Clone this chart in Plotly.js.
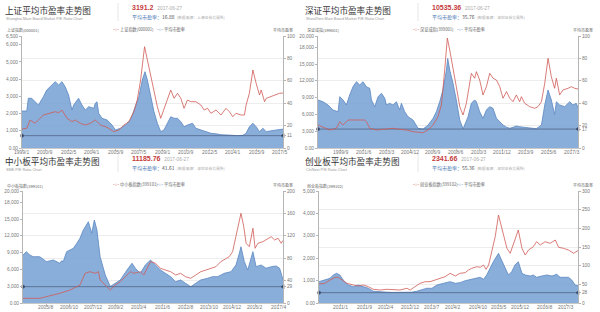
<!DOCTYPE html>
<html><head><meta charset="utf-8">
<script src="https://cdn.plot.ly/plotly-3.0.1.min.js"></script>
<style>html,body{margin:0;padding:0;background:#fff}#chart{width:600px;height:312px}</style>
</head><body><div id="chart"></div>
<script>
// ---------- texts ----------
const titles = ['上证平均市盈率走势图','深证平均市盈率走势图','中小板平均市盈率走势图','创业板平均市盈率走势图'];
const subtitles = ['Shanghai Main Board Market P/E Ratio Chart','ShenZhen Main Board Market P/E Ratio Chart','SME P/E Ratio Chart','ChiNext P/E Ratio Chart'];
const lastIndex = ['3191.2','10535.36','11185.76','2341.66'];
const lastDate = ['2017-06-27','2017-06-27','2017-06-27','2017-06-27'];
const lastPE = ['16.88','35.76','41.61','55.36'];
const sources = ['(数据来源：上海证券交易所)','(数据来源：深圳证券交易所)','(数据来源：深圳证券交易所)','(数据来源：深圳证券交易所)'];
const indexNames = ['上证指数(000001)','深证成指(399001)','中小板指数(399101)','创业板指数(399102)'];
const peName = '平均市盈率';

// ---------- x tick labels ----------
const shXLabels = ['1999/1','2000/9','2002/5','2004/1','2005/9','2007/5','2009/1','2010/9','2012/5','2014/1','2015/9','2017/5'];
const szXLabels = ['1997/12','1999/9','2001/6','2003/3','2004/12','2006/9','2008/6','2010/3','2011/12','2013/9','2015/6','2017/3'];
const smeXLabels = ['2004/6','2005/8','2006/10','2007/12','2009/2','2010/4','2011/6','2012/8','2013/10','2014/12','2016/2','2017/4'];
const cyXLabels = ['2010/6','2011/1','2011/9','2012/4','2012/12','2013/7','2014/2','2014/10','2015/5','2015/12','2016/8','2017/3'];

// ---------- Shanghai ----------
const shT = [1999.00,1999.34,1999.57,1999.93,2000.52,2001.00,2001.36,2001.60,2001.84,2002.20,2002.55,2002.79,2003.14,2003.50,2003.86,2004.21,2004.57,2005.05,2005.52,2005.88,2006.24,2006.59,2006.95,2007.19,2007.43,2007.71,2007.91,2008.14,2008.38,2008.62,2008.86,2009.21,2009.57,2009.81,2010.05,2010.29,2010.52,2010.76,2011.00,2011.36,2011.71,2011.95,2012.19,2012.43,2012.79,2013.14,2013.50,2013.74,2013.98,2014.21,2014.57,2014.81,2014.93,2015.16,2015.41,2015.64,2015.88,2016.00,2016.24,2016.36,2016.71,2017.07,2017.31,2017.55];
const shIdx = [1100,1143,1625,1433,1915,2014,2107,2049,2205,1724,1526,1625,1433,1335,1433,1625,1335,1201,946,1045,1335,1526,2107,2786,3946,5879,5107,4335,3465,2397,1724,2496,3366,2884,3174,2884,2304,2786,2687,2687,2496,2205,2304,2014,2205,1915,2304,2107,1816,2014,1915,1915,2496,3174,4527,3755,3076,3366,2687,2884,2977,3076,3174,3191];
const shPeT = [1999.00,1999.34,1999.45,1999.69,1999.93,2000.17,2000.52,2000.76,2001.00,2001.36,2001.60,2001.84,2002.07,2002.31,2002.55,2002.67,2003.02,2003.26,2003.50,2003.74,2004.10,2004.21,2004.33,2004.45,2004.69,2005.05,2005.40,2005.64,2006.00,2006.36,2006.71,2007.07,2007.31,2007.55,2007.74,2007.91,2008.14,2008.38,2008.62,2008.86,2009.09,2009.45,2009.57,2009.81,2010.05,2010.29,2010.52,2010.76,2011.12,2011.36,2011.71,2012.07,2012.43,2012.90,2013.14,2013.62,2013.98,2014.33,2014.69,2014.93,2015.16,2015.41,2015.64,2015.88,2016.12,2016.36,2016.71,2017.19,2017.55];
const shPe = [33.0,33.0,44.4,44.4,41.3,38.4,45.8,51.8,54.7,59.2,56.3,59.2,54.7,47.3,33.9,38.4,44.4,38.4,33.9,36.9,35.4,39.9,41.3,31.0,26.5,25.0,20.5,16.1,17.6,20.5,25.0,36.9,45.8,60.7,68.1,60.7,47.3,32.4,22.1,14.6,16.1,25.0,27.9,26.5,26.5,23.5,19.0,20.5,22.1,17.6,16.1,14.6,13.1,12.5,11.8,11.6,11.2,11.0,11.3,13.1,19.0,22.1,19.0,14.6,17.6,14.6,15.4,16.1,16.88];

// ---------- Shenzhen ----------
const szT = [1997.94,1998.83,1999.33,1999.59,1999.84,2000.22,2000.85,2001.48,2001.61,2001.86,2002.37,2002.87,2003.25,2003.62,2004.13,2004.64,2005.14,2005.90,2006.28,2006.66,2007.03,2007.29,2007.54,2007.74,2007.92,2008.17,2008.42,2008.68,2008.93,2009.18,2009.56,2009.81,2009.94,2010.19,2010.44,2010.70,2010.95,2011.20,2011.46,2011.71,2011.96,2012.22,2012.47,2012.72,2012.97,2013.22,2013.35,2013.60,2013.98,2014.36,2014.61,2014.87,2015.12,2015.37,2015.62,2015.87,2016.00,2016.25,2016.50,2016.88,2017.14,2017.39,2017.64];
const szIdx = [4108,3215,3518,4697,4108,5000,5000,5000,4697,3518,3215,3340,3340,3518,3340,3215,2911,2733,3215,4108,5590,7680,13930,19640,17500,14520,10950,7380,5890,7980,13340,12450,13630,12140,9470,10950,13340,12450,12140,10950,8880,10060,8880,8270,9470,8270,9160,7980,7380,7090,7380,8270,11560,16020,12730,10660,12450,9470,10360,10660,10950,10660,10535];
const szPeT = [1997.94,1998.32,1998.70,1999.08,1999.46,1999.59,1999.84,2000.09,2000.34,2000.59,2000.85,2001.10,2001.35,2001.61,2001.86,2001.99,2002.24,2002.49,2002.75,2003.00,2003.12,2003.37,2003.62,2003.88,2004.13,2004.26,2004.51,2004.76,2005.14,2005.52,2005.90,2006.28,2006.66,2006.91,2007.16,2007.41,2007.67,2007.77,2007.92,2008.17,2008.42,2008.68,2008.93,2009.31,2009.56,2009.81,2009.94,2010.19,2010.44,2010.70,2010.95,2011.20,2011.46,2011.71,2011.96,2012.22,2012.47,2012.72,2012.97,2013.22,2013.73,2014.23,2014.48,2014.87,2015.12,2015.37,2015.62,2015.87,2016.00,2016.25,2016.63,2017.01,2017.26,2017.51,2017.64];
const szPe = [42.9,41.3,38.4,33.9,32.4,45.8,42.9,38.4,47.3,54.7,59.2,56.3,59.2,54.7,53.3,42.9,36.9,45.8,48.8,44.4,38.4,39.9,38.4,41.3,33.9,39.9,32.4,27.9,25.0,17.6,16.9,20.5,26.5,32.4,41.3,51.8,69.6,80.0,69.6,57.8,42.9,25.0,17.0,27.9,39.9,42.9,41.3,32.4,26.5,33.9,36.9,35.4,26.5,23.5,20.5,18.5,17.6,18.5,19.6,19.0,18.5,17.6,17.2,20.5,38.4,51.8,42.9,30.0,41.3,38.4,36.9,41.3,38.4,39.9,35.76];

// ---------- SME ----------
const smeT = [2004.42,2005.26,2006.27,2006.78,2007.28,2007.54,2007.79,2008.04,2008.21,2008.29,2008.63,2008.80,2009.05,2009.30,2009.56,2009.81,2009.98,2010.31,2010.48,2010.73,2010.82,2011.07,2011.32,2011.57,2011.83,2012.08,2012.33,2012.58,2012.84,2013.09,2013.34,2013.60,2013.85,2014.10,2014.35,2014.61,2014.77,2014.94,2015.11,2015.28,2015.36,2015.50,2015.62,2015.78,2015.96,2016.07,2016.21,2016.46,2016.71,2016.88,2017.05,2017.22,2017.38,2017.47];
const smeIdx = [840,840,1730,2320,3210,5300,5590,5300,5590,4110,2910,2320,3210,3800,4700,5590,5300,5590,5000,6790,7380,7090,6200,5890,5590,5000,5300,4700,4410,5000,5590,5890,6200,6480,7380,7980,8270,9160,11840,14820,16020,13630,10660,10060,13340,9770,10660,10950,11560,11840,11250,11560,10660,11186];
const smePeT = [2004.42,2004.59,2004.76,2004.93,2005.26,2005.60,2005.94,2006.27,2006.36,2006.44,2006.61,2006.78,2006.95,2007.12,2007.28,2007.45,2007.70,2007.87,2008.00,2008.13,2008.29,2008.55,2008.80,2009.05,2009.30,2009.64,2009.89,2010.06,2010.31,2010.56,2010.82,2011.07,2011.32,2011.57,2011.83,2012.08,2012.33,2012.58,2012.84,2013.09,2013.34,2013.68,2013.93,2014.19,2014.52,2014.86,2015.11,2015.28,2015.36,2015.53,2015.70,2015.96,2016.12,2016.37,2016.62,2016.88,2017.13,2017.30,2017.38,2017.47];
const smePe = [85.7,91.6,85.7,82.7,82.7,73.8,76.8,70.9,75.5,73.8,91.6,94.6,97.7,106.6,115.5,130.4,145.2,124.5,148.2,130.4,82.7,50.0,29.5,35.2,41.1,58.9,70.9,62.0,53.0,67.9,76.8,67.9,58.9,53.0,47.0,38.0,41.1,35.2,29.1,35.2,41.1,44.1,47.0,47.0,53.0,55.9,67.9,88.8,100.5,73.8,58.9,91.6,64.8,67.9,62.0,64.8,66.1,62.0,53.0,41.61];

// ---------- ChiNext ----------
const cyT = [2010.42,2010.58,2010.72,2010.86,2010.95,2011.04,2011.18,2011.36,2011.49,2011.63,2011.77,2011.90,2012.09,2012.27,2012.45,2012.63,2012.82,2012.91,2013.04,2013.18,2013.32,2013.45,2013.59,2013.73,2013.86,2014.00,2014.14,2014.27,2014.41,2014.50,2014.59,2014.73,2014.82,2014.91,2014.98,2015.05,2015.14,2015.23,2015.32,2015.41,2015.55,2015.64,2015.73,2015.86,2015.96,2016.05,2016.14,2016.27,2016.36,2016.46,2016.59,2016.73,2016.87,2016.96,2017.09,2017.23,2017.37,2017.49];
const cyIdx = [850,879,1027,1147,1147,1027,879,804,759,804,728,612,580,612,580,580,656,580,728,879,951,951,1027,1103,1174,1326,1205,1326,1353,1473,1549,1620,1594,1696,1504,1696,2290,2960,3928,3335,2442,2219,2665,3259,2442,2143,2366,2513,2736,2589,2736,2665,2812,2486,2442,2366,2219,2342];
const cyPeT = [2010.42,2010.58,2010.72,2010.81,2010.90,2010.99,2011.08,2011.22,2011.36,2011.49,2011.63,2011.77,2011.90,2012.09,2012.27,2012.45,2012.63,2012.82,2012.95,2013.09,2013.23,2013.36,2013.50,2013.64,2013.82,2014.00,2014.14,2014.27,2014.41,2014.55,2014.68,2014.82,2014.91,2015.00,2015.09,2015.18,2015.32,2015.41,2015.50,2015.59,2015.68,2015.77,2015.86,2015.96,2016.05,2016.19,2016.27,2016.36,2016.50,2016.64,2016.78,2016.91,2017.00,2017.14,2017.23,2017.32,2017.41,2017.49];
const cyPe = [57.1,61.6,66.2,75.0,79.6,75.0,61.6,48.2,43.7,48.2,43.7,39.4,31.5,29.5,29.0,28.3,28.3,27.6,29.0,31.5,34.8,39.4,39.4,48.2,52.8,57.1,52.8,54.4,59.7,63.5,66.2,68.9,63.5,75.0,93.0,110.6,133.1,115.2,93.0,75.0,83.9,101.8,110.6,79.6,75.0,72.3,75.0,68.9,72.3,75.0,72.3,76.9,68.9,68.9,68.9,61.6,48.2,46.3];

// ---------- layout helpers ----------
const W = 600, H = 312;
const px = x => x / W, py = y => 1 - y / H;
const parseYM = s => { const [y, m] = s.split('/').map(Number); return y + (m - 1) / 12; };
const FONT = 'Liberation Sans, Noto Sans CJK SC, sans-serif';
const CJK = 'Noto Sans CJK SC, sans-serif';
const RED = '#cf5a55', BLUE_FILL = 'rgba(118,160,212,0.85)', BLUE_LINE = '#5a86c2';
const TICKC = '#777';

const panels = [
  {t: shT, v: shIdx, pt: shPeT, pe: shPe, xl: shXLabels, L: [0, 6500], dL: 1000, R: [0, 100], dR: 20, x0: 22, x1: 283, top: 36, bot: 148, ox: 0, hy: 0},
  {t: szT, v: szIdx, pt: szPeT, pe: szPe, xl: szXLabels, L: [0, 20000], dL: 3000, R: [0, 100], dR: 20, x0: 318, x1: 578, top: 36, bot: 148, ox: 300, hy: 0},
  {t: smeT, v: smeIdx, pt: smePeT, pe: smePe, xl: smeXLabels, L: [0, 20000], dL: 3000, R: [0, 200], dR: 40, x0: 23, x1: 283, top: 191, bot: 303, ox: 0, hy: 151},
  {t: cyT, v: cyIdx, pt: cyPeT, pe: cyPe, xl: cyXLabels, L: [0, 5000], dL: 1000, R: [0, 300], dR: 50, x0: 319, x1: 578, top: 191, bot: 303, ox: 300, hy: 151}
];

const data = [];
const layout = {
  width: W, height: H, margin: {l: 0, r: 0, t: 0, b: 0},
  paper_bgcolor: '#fff', plot_bgcolor: 'rgba(0,0,0,0)',
  showlegend: false, font: {family: FONT, color: '#666', size: 5},
  annotations: [], shapes: []
};

const fmt = v => v === 0 ? '0.00' : v.toLocaleString('en-US');

panels.forEach((p, i) => {
  const k = i + 1;
  const xa = k === 1 ? 'xaxis' : 'xaxis' + k;
  const xr = k === 1 ? 'x' : 'x' + k;
  const yb = 2 * k - 1, yo = 2 * k;
  const ybName = yb === 1 ? 'yaxis' : 'yaxis' + yb;
  const ybRef = yb === 1 ? 'y' : 'y' + yb;
  const yoName = 'yaxis' + yo, yoRef = 'y' + yo;
  const tmin = Math.min(p.t[0], p.pt[0]);
  const tmax = Math.max(p.t[p.t.length - 1], p.pt[p.pt.length - 1]);
  const peMin = Math.min(...p.pe);
  const xt = p.xl.map(parseYM);

  layout[xa] = {
    domain: [px(p.x0), px(p.x1)], anchor: ybRef, range: [tmin, tmax],
    tickmode: 'array', tickvals: xt, showticklabels: false,
    showline: true, linecolor: '#c8c8c8', linewidth: 1, ticks: 'outside', ticklen: 2, tickcolor: '#c8c8c8',
    showgrid: false, zeroline: false, fixedrange: true
  };
  const rv = [], rt = [];
  for (let v = p.R[0]; v <= p.R[1] + 1e-9; v += p.dR) { rv.push(v); rt.push(String(v)); }
  rv.push(peMin); rt.push(String(Math.round(peMin)));
  layout[ybName] = {
    domain: [py(p.bot), py(p.top)], anchor: xr, side: 'right', range: p.R,
    tickmode: 'array', tickvals: rv, ticktext: rt, tickfont: {size: 4.8, color: TICKC},
    showgrid: true, gridcolor: '#e8e8e8', gridwidth: 0.8,
    showline: true, linecolor: '#b5b5b5', ticks: 'outside', ticklen: 2, tickcolor: '#b5b5b5',
    zeroline: false, fixedrange: true
  };
  const lv = [], lt = [];
  for (let v = p.L[0]; v <= p.L[1] + 1e-9; v += p.dL) { lv.push(v); lt.push(fmt(v)); }
  if (lv[lv.length - 1] < p.L[1]) { lv.push(p.L[1]); lt.push(fmt(p.L[1])); }
  layout[yoName] = {
    overlaying: ybRef, anchor: xr, side: 'left', range: p.L,
    tickmode: 'array', tickvals: lv, ticktext: lt, tickfont: {size: 4.8, color: TICKC},
    showgrid: false, showline: true, linecolor: '#b5b5b5', ticks: 'outside', ticklen: 2, tickcolor: '#b5b5b5',
    zeroline: false, fixedrange: true
  };

  data.push({type: 'scatter', mode: 'lines', x: p.pt, y: p.pe, xaxis: xr, yaxis: ybRef,
    fill: 'tozeroy', fillcolor: BLUE_FILL, line: {color: BLUE_LINE, width: 0.8}, hoverinfo: 'skip'});
  data.push({type: 'scatter', mode: 'lines+markers', x: [p.pt[0], p.pt[p.pt.length - 1]], y: [peMin, peMin],
    xaxis: xr, yaxis: ybRef, cliponaxis: false,
    line: {color: 'rgba(45,55,80,0.7)', width: 0.7},
    marker: {color: '#1d2a44', size: [3.2, 4], symbol: ['circle', 'triangle-left']}, hoverinfo: 'skip'});
  data.push({type: 'scatter', mode: 'lines', x: p.t, y: p.v, xaxis: xr, yaxis: yoRef,
    line: {color: RED, width: 0.8}, hoverinfo: 'skip'});

  const A = layout.annotations, ox = p.ox, hy = p.hy, ly = p.top - 36;
  // x tick labels, placed through the x axis scale
  xt.forEach((v, j) => A.push({xref: xr, yref: 'paper', x: v, y: py(p.bot + 3.6), text: p.xl[j],
    showarrow: false, xanchor: 'center', yanchor: 'middle', borderpad: 0,
    font: {size: 5, color: TICKC, family: FONT}}));
  const ann = (x, y, text, size, color, extra) => A.push(Object.assign({
    xref: 'paper', yref: 'paper', x: px(x), y: py(y), text, showarrow: false, borderpad: 0,
    xanchor: 'left', yanchor: 'middle', font: {size, color, family: CJK}
  }, extra || {}));
  ann(ox + 4, hy + 10, titles[i], 8.6, '#333');
  ann(ox + 5, hy + 18.8, subtitles[i], 3.8, '#999', {font: {size: 3.8, color: '#999', family: FONT}});
  ann(ox + 131, hy + 7.3, '<b>' + lastIndex[i] + '</b>  <span style="color:#aaa;font-weight:normal;font-size:4.8px">' + lastDate[i] + '</span>', 7, '#c0392b', {font: {size: 7, color: '#c43b3b', family: FONT}});
  ann(ox + 131, hy + 17.3, '<span style="color:#4a78b4">' + peName + '：</span>' + lastPE[i] + '  <span style="color:#aaa;font-size:3.8px">' + sources[i] + '</span>', 5, '#555');
  layout.shapes.push({type: 'line', xref: 'paper', yref: 'paper', x0: px(ox + 118), x1: px(ox + 118), y0: py(hy + 3), y1: py(hy + 21), line: {color: '#e0e0e0', width: 0.8}});
  ann(ox + 111.5, ly + 29, '-○-', 4.8, RED, {font: {size: 4.8, color: RED, family: FONT}});
  ann(ox + 119, ly + 29, indexNames[i], 4.2, '#666');
  ann(ox + 155.5, ly + 29, '-○-', 4.8, BLUE_LINE, {font: {size: 4.8, color: BLUE_LINE, family: FONT}});
  ann(ox + 163, ly + 29, peName, 4.2, '#666');
  ann(ox + 6, ly + 30.5, indexNames[i], 4, '#666');
  ann(ox + 272, ly + 30, peName, 4, '#666');
});

Plotly.newPlot('chart', data, layout, {staticPlot: true, displayModeBar: false});
</script>
</body></html>
